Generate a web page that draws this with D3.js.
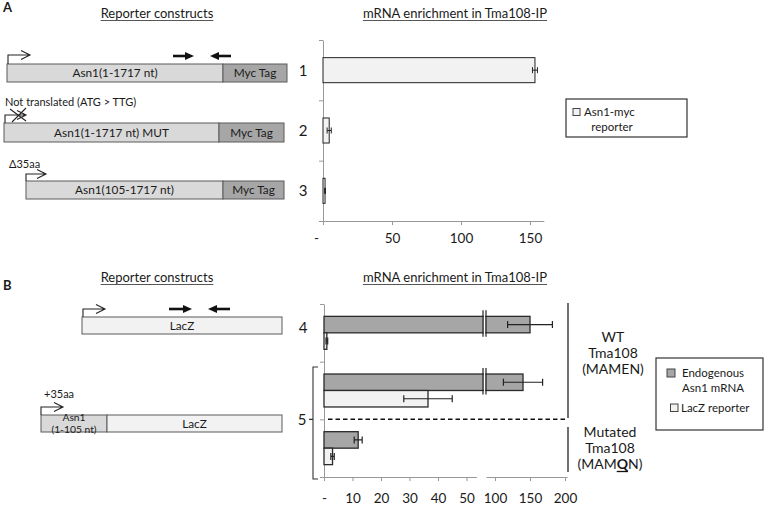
<!DOCTYPE html>
<html><head><meta charset="utf-8">
<script src="https://cdn.jsdelivr.net/npm/d3@7"></script>
<style>
body{margin:0;background:#fff}
svg text{font-family:Lato,"Open Sans",sans-serif;fill:#1a1a1a}
</style>
</head><body>
<svg id="c" width="765" height="509"></svg>
<script>
// ---------- Panel A data ----------
const catsA = ["1", "2", "3"];
const valuesA = [153.6, 4.5, 1.5];
const errorsA = [1.8, 1.5, 0.3];
const ticksA = [0, 50, 100, 150];
const tickLabelsA = ["-", "50", "100", "150"];
const legendA = ["Asn1-myc", "reporter"];

// ---------- Panel B data ----------
const groupsB = ["4", "5wt", "5mut"];
const seriesB = ["Endogenous Asn1 mRNA", "LacZ reporter"];
const endoB = [150, 140, 12];
const endoErrB = [32, 28, 1.4];
const laczB = [1, 36.5, 3];
const laczErrB = [0.3, 8.5, 0.6];
const ticksBLow = [0, 10, 20, 30, 40, 50];
const tickLabelsBLow = ["-", "10", "20", "30", "40", "50"];
const ticksBHigh = [100, 150, 200];

const DARK = "#a6a6a6", LIGHT = "#f2f2f2", MID = "#d9d9d9";
const svg = d3.select("#c");

function underlinedTitle(x, y, txt, size) {
  const t = svg.append("text").attr("x", x).attr("y", y).attr("text-anchor", "middle")
    .attr("font-size", size).text(txt);
  const w = t.node().getComputedTextLength();
  svg.append("line").attr("x1", x - w / 2).attr("x2", x + w / 2)
    .attr("y1", y + 2.5).attr("y2", y + 2.5).attr("stroke", "#444").attr("stroke-width", 0.9);
}
function promoter(x, yBase, yTop, x2) {
  svg.append("path").attr("fill", "none").attr("stroke", "#222").attr("stroke-width", 1.1)
    .attr("d", `M${x},${yBase}V${yTop}H${x2}M${x2 - 9},${yTop - 4.5}L${x2},${yTop}L${x2 - 9},${yTop + 4.5}`);
}
function primers(y, r1, r2, l1, l2) {
  const g = svg.append("g").attr("fill", "#111").attr("stroke", "#111");
  g.append("line").attr("x1", r1).attr("x2", r2 - 7).attr("y1", y).attr("y2", y).attr("stroke-width", 2.6);
  g.append("path").attr("stroke", "none").attr("d", `M${r2 - 9},${y - 4}L${r2},${y}L${r2 - 9},${y + 4}Z`);
  g.append("line").attr("x1", l1 + 7).attr("x2", l2).attr("y1", y).attr("y2", y).attr("stroke-width", 2.6);
  g.append("path").attr("stroke", "none").attr("d", `M${l1 + 9},${y - 4}L${l1},${y}L${l1 + 9},${y + 4}Z`);
}
function construct(x0, x1, x2, y0, y1, parts) {
  const segs = [[x0, x1], [x1, x2]];
  parts.forEach((p, i) => {
    const [a, b] = segs[i];
    if (b <= a) return;
    svg.append("rect").attr("x", a).attr("y", y0).attr("width", b - a).attr("height", y1 - y0)
      .attr("fill", p.fill).attr("stroke", "#5a5a5a").attr("stroke-width", 1);
    const lines = p.label;
    const cy = (y0 + y1) / 2;
    const multi = lines.length > 1;
    lines.forEach((l, j) => {
      svg.append("text").attr("x", (a + b) / 2)
        .attr("y", cy + (multi ? 3.5 : 4) + (j - (lines.length - 1) / 2) * (multi ? 12 : 11))
        .attr("text-anchor", "middle").attr("font-size", multi ? 10.3 : 11.8).text(l);
    });
  });
}

// ---------- Panel A ----------
svg.append("text").attr("x", 3).attr("y", 12).attr("font-size", 13).attr("font-weight", "bold").text("A");
underlinedTitle(157, 18, "Reporter constructs", 13);
underlinedTitle(455, 18, "mRNA enrichment in Tma108-IP", 13);

construct(7, 223, 287, 64, 82, [{fill: MID, label: ["Asn1(1-1717 nt)"]}, {fill: DARK, label: ["Myc Tag"]}]);
promoter(8, 64, 55, 30);
primers(56, 173, 194, 210, 231);

svg.append("text").attr("x", 5).attr("y", 106).attr("font-size", 11).text("Not translated (ATG > TTG)");
construct(4, 219, 284, 123, 142, [{fill: MID, label: ["Asn1(1-1717 nt) MUT"]}, {fill: DARK, label: ["Myc Tag"]}]);
promoter(5, 123, 115, 26);
svg.append("path").attr("fill", "none").attr("stroke", "#222").attr("stroke-width", 1.1)
  .attr("d", "M10,109L26,121M26,108L12,122");

svg.append("text").attr("x", 9).attr("y", 168).attr("font-size", 11).text("Δ35aa");
construct(26, 223, 284, 181, 199, [{fill: MID, label: ["Asn1(105-1717 nt)"]}, {fill: DARK, label: ["Myc Tag"]}]);
promoter(26, 181, 174, 46);

const xA = d3.scaleLinear().domain([0, 160]).range([323, 543.8]);
const yA = d3.scaleBand().domain(catsA).range([40, 221]).paddingInner(0.585).paddingOuter(0.2925);
const yABound = d3.scaleLinear().domain([0, catsA.length]).range([40, 221]);

const gxA = svg.append("g").attr("transform", "translate(0,221)")
  .call(d3.axisBottom(xA).tickValues(ticksA).tickFormat((d, i) => tickLabelsA[i]).tickSizeInner(4).tickSizeOuter(0).tickPadding(8));
gxA.selectAll("text").attr("font-size", 13.5).attr("font-family", "Lato, sans-serif").attr("fill", "#1a1a1a")
  .attr("dx", (d, i) => i === 0 ? -7 : 0);
gxA.selectAll("path,line").attr("stroke", "#999");

const gyA = svg.append("g").attr("transform", "translate(323,0)")
  .call(d3.axisLeft(yABound).tickValues(d3.range(catsA.length + 1)).tickFormat("").tickSizeInner(4).tickSizeOuter(0));
gyA.selectAll("path,line").attr("stroke", "#999");

catsA.forEach((c, i) => {
  const yb = yA(c), h = yA.bandwidth(), cy = yb + h / 2;
  svg.append("rect").attr("x", xA(0)).attr("y", yb).attr("width", xA(valuesA[i]) - xA(0)).attr("height", h)
    .attr("fill", LIGHT).attr("stroke", "#222").attr("stroke-width", 1);
  const e0 = xA(valuesA[i] - errorsA[i]), e1 = xA(valuesA[i] + errorsA[i]);
  svg.append("path").attr("fill", "none").attr("stroke", "#222").attr("stroke-width", 1)
    .attr("d", `M${e0},${cy}H${e1}M${e0},${cy - 3}V${cy + 3}M${e1},${cy - 3}V${cy + 3}`);
  svg.append("text").attr("x", 303).attr("y", cy + 5.5).attr("text-anchor", "middle").attr("font-size", 15).text(c);
});

// Legend A
svg.append("rect").attr("x", 566).attr("y", 99).attr("width", 121).attr("height", 38)
  .attr("fill", "#fff").attr("stroke", "#333").attr("stroke-width", 1.2);
svg.append("rect").attr("x", 573).attr("y", 108.5).attr("width", 7).attr("height", 7)
  .attr("fill", LIGHT).attr("stroke", "#444").attr("stroke-width", 1);
svg.append("text").attr("x", 584).attr("y", 116).attr("font-size", 11.5).text(legendA[0]);
svg.append("text").attr("x", 612).attr("y", 131).attr("text-anchor", "middle").attr("font-size", 11.5).text(legendA[1]);

// ---------- Panel B ----------
svg.append("text").attr("x", 3).attr("y", 290).attr("font-size", 13).attr("font-weight", "bold").text("B");
underlinedTitle(157, 282, "Reporter constructs", 13);
underlinedTitle(455, 282, "mRNA enrichment in Tma108-IP", 13);

construct(82, 82, 282, 317, 334, [{fill: MID, label: []}, {fill: LIGHT, label: ["LacZ"]}]);
promoter(83, 317, 309, 105);
primers(309, 169, 192, 208, 230);

svg.append("text").attr("x", 44).attr("y", 398).attr("font-size", 11).text("+35aa");
construct(41, 107, 282, 415, 432, [{fill: MID, label: ["Asn1", "(1-105 nt)"]}, {fill: LIGHT, label: ["LacZ"]}]);
promoter(41, 415, 407, 63);

const xB = d3.scaleLinear().domain([0, 55.8, 87.1, 200]).range([324, 483, 486, 565]);
const xBLowAxis = d3.scaleLinear().domain([0, 53.5]).range([xB(0), xB(53.5)]);
const xBHighAxis = d3.scaleLinear().domain([87.1, 203]).range([xB(87.1), xB(203)]);
const yB = d3.scaleBand().domain(groupsB).range([304, 477]);
const ySub = d3.scaleBand().domain(seriesB).range([0, yB.bandwidth()]).paddingInner(0).paddingOuter(0.75);
const yBBound = d3.scaleLinear().domain([0, groupsB.length]).range([304, 477]);

function styleAxis(g) {
  g.selectAll("path,line").attr("stroke", "#999");
  g.selectAll("text").attr("font-size", 13.5).attr("font-family", "Lato, sans-serif").attr("fill", "#1a1a1a");
}
styleAxis(svg.append("g").attr("transform", "translate(0,477)")
  .call(d3.axisBottom(xBLowAxis).tickValues(ticksBLow).tickFormat((d, i) => tickLabelsBLow[i]).tickSizeInner(4).tickSizeOuter(0).tickPadding(12)));
styleAxis(svg.append("g").attr("transform", "translate(0,477)")
  .call(d3.axisBottom(xBHighAxis).tickValues(ticksBHigh).tickFormat(d3.format("d")).tickSizeInner(4).tickSizeOuter(0).tickPadding(12)));
styleAxis(svg.append("g").attr("transform", "translate(324,0)")
  .call(d3.axisLeft(yBBound).tickValues(d3.range(groupsB.length + 1)).tickFormat("").tickSizeInner(4).tickSizeOuter(0)));

const dataB = [endoB, laczB], errB = [endoErrB, laczErrB], fillB = [DARK, LIGHT];
groupsB.forEach((g, gi) => {
  seriesB.forEach((s, si) => {
    const v = dataB[si][gi], e = errB[si][gi];
    const y0 = yB(g) + ySub(s), h = ySub.bandwidth(), cy = y0 + h / 2;
    svg.append("rect").attr("x", xB(0)).attr("y", y0).attr("width", xB(v) - xB(0)).attr("height", h)
      .attr("fill", fillB[si]).attr("stroke", "#2a2a2a").attr("stroke-width", 1.3);
    if (v > 55.8) {
      svg.append("rect").attr("x", xB(55.8) + 0.8).attr("y", y0 - 6).attr("width", xB(87.1) - xB(55.8) - 1.6)
        .attr("height", h + 12).attr("fill", "#fff");
      [xB(55.8), xB(87.1)].forEach(bx => svg.append("line").attr("x1", bx).attr("x2", bx)
        .attr("y1", y0 - 6).attr("y2", y0 + h + 4).attr("stroke", "#222").attr("stroke-width", 1.2));
    }
    const e0 = xB(v - e), e1 = xB(v + e);
    svg.append("path").attr("fill", "none").attr("stroke", "#222").attr("stroke-width", 1.2)
      .attr("d", `M${e0},${cy}H${e1}M${e0},${cy - 3.5}V${cy + 3.5}M${e1},${cy - 3.5}V${cy + 3.5}`);
  });
});

// group labels and bracket
svg.append("text").attr("x", 303).attr("y", yB("4") + 29).attr("text-anchor", "middle").attr("font-size", 15).text("4");
svg.append("text").attr("x", 302).attr("y", yB("5mut") + 5.5).attr("text-anchor", "middle").attr("font-size", 15).text("5");
svg.append("path").attr("fill", "none").attr("stroke", "#333").attr("stroke-width", 1.1)
  .attr("d", `M318,367H313V479H318M313,${yB("5mut")}H309`);

// dashed separator
svg.append("line").attr("x1", 328).attr("x2", 567).attr("y1", yB("5mut")).attr("y2", yB("5mut"))
  .attr("stroke", "#111").attr("stroke-width", 1.5).attr("stroke-dasharray", "4.5,3");
// vertical condition lines
svg.append("line").attr("x1", 568).attr("x2", 568).attr("y1", 303).attr("y2", 418).attr("stroke", "#222").attr("stroke-width", 1.3);
svg.append("line").attr("x1", 568).attr("x2", 568).attr("y1", 427).attr("y2", 472).attr("stroke", "#222").attr("stroke-width", 1.3);

["WT", "Tma108", "(MAMEN)"].forEach((t, i) =>
  svg.append("text").attr("x", 613).attr("y", 342 + i * 16).attr("text-anchor", "middle").attr("font-size", 14).text(t));
["Mutated", "Tma108"].forEach((t, i) =>
  svg.append("text").attr("x", 610).attr("y", 437 + i * 16).attr("text-anchor", "middle").attr("font-size", 14).text(t));
const mq = svg.append("text").attr("x", 610).attr("y", 469).attr("text-anchor", "middle").attr("font-size", 14);
mq.append("tspan").text("(MAM");
mq.append("tspan").attr("font-weight", "bold").text("Q");
mq.append("tspan").text("N)");
const ext = mq.node().getExtentOfChar(4);
svg.append("line").attr("x1", ext.x).attr("x2", ext.x + ext.width).attr("y1", 471.5).attr("y2", 471.5)
  .attr("stroke", "#111").attr("stroke-width", 1.3);

// Legend B
svg.append("rect").attr("x", 656).attr("y", 358).attr("width", 107).attr("height", 72)
  .attr("fill", "#fff").attr("stroke", "#333").attr("stroke-width", 1.2);
svg.append("rect").attr("x", 667).attr("y", 369).attr("width", 8).attr("height", 8)
  .attr("fill", DARK).attr("stroke", "#444").attr("stroke-width", 1);
svg.append("text").attr("x", 713).attr("y", 377).attr("text-anchor", "middle").attr("font-size", 11.5).text("Endogenous");
svg.append("text").attr("x", 713).attr("y", 392).attr("text-anchor", "middle").attr("font-size", 11.5).text("Asn1 mRNA");
svg.append("rect").attr("x", 670.5).attr("y", 404).attr("width", 7.5).attr("height", 7.5)
  .attr("fill", LIGHT).attr("stroke", "#444").attr("stroke-width", 1);
svg.append("text").attr("x", 681).attr("y", 412).attr("font-size", 11.5).text(seriesB[1]);
</script>
</body></html>
